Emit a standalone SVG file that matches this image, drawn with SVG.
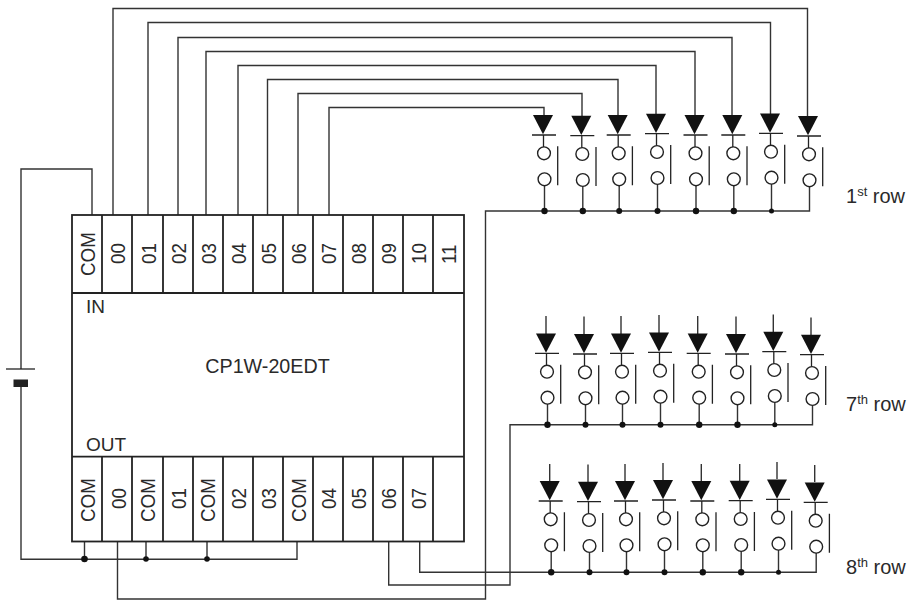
<svg xmlns="http://www.w3.org/2000/svg" width="912" height="606" viewBox="0 0 912 606">
<style>
text{font-family:"Liberation Sans",Arial,sans-serif;font-size:19px;fill:#2a2a2a}
.r{font-size:20px}
.w{fill:none;stroke:#333;stroke-width:1.4}
.b{fill:none;stroke:#222;stroke-width:1.8}
.s{fill:none;stroke:#222;stroke-width:1.3}
.d{fill:#111;stroke:none}
.c{fill:#fff;stroke:#222;stroke-width:1.4}
.sup{font-size:13px}
</style>
<defs>
<g id="sw">
<path class="d" d="M-11-38.3H9L-1-19Z"/>
<path class="s" d="M-12-18.3H12M-.5-19V-6M13.7-7V32"/>
<circle class="c" cx="0" cy="0" r="6.4"/>
<circle class="c" cx=".5" cy="26" r="6.4"/>
</g>
</defs>
<rect width="912" height="606" fill="#fff"/>
<g id="connectors">
<path class="w" d="M92 215V169H21V369M21 387V559.3H297V541"/>
<path class="w" d="M84.5 541V559M146 541V559M207 541V559"/>
<path class="w" d="M113 215V8.5H807.5V116M148 215V22.5H770.5V114M178 215V37.5H732V115M206 215V51.5H695V115M238 215V65.5H656V114M267.5 215V79.5H618V115M298 215V93.5H582V116M329 215V107.5H544V115"/>
<path class="w" d="M117.5 541V599H485.5V211H809.5V186.3"/>
<path class="w" d="M388.7 541V585H510V424.7H812.5V405"/>
<path class="w" d="M419.7 541V572.3H816.2V552.7"/>
<path class="w" d="M544.5 185V211M582.8 186V211M619.2 185V211M657.5 184V211M696 185V211M733.8 185V211M771.5 184V211"/>
<path class="w" d="M547.5 404V424.7M585.5 404V424.7M622.5 404V424.7M660.5 403V424.7M699.2 404V424.7M737.5 404V424.7M774.8 402V424.7"/>
<path class="w" d="M551.2 551V572.3M589.5 552V572.3M626.5 551V572.3M664.5 550V572.3M702.8 551V572.3M741.2 551V572.3M778.5 550V572.3"/>
<path class="w" d="M546 316V334M584 316.5V335M621 316V334M659 315V333M697.7 316V334M736 316.5V335M773.3 314.5V332M811 317.5V335M549.7 464V481M588 464.5V482M625 464V481M663 463V480M701.3 464V481M739.7 464V481M777 462V479M814.7 465V482"/>
<g fill="#111">
<circle cx="84.5" cy="559" r="3.3"/><circle cx="146" cy="559" r="2.8"/><circle cx="207" cy="559" r="2.8"/>
<circle cx="544.5" cy="211" r="3.2"/><circle cx="582.8" cy="211" r="3.2"/><circle cx="619.2" cy="211" r="3"/><circle cx="657.5" cy="211" r="3"/><circle cx="696" cy="211" r="3.2"/><circle cx="733.8" cy="211" r="3.2"/><circle cx="771.5" cy="211" r="2.5"/>
<circle cx="547.5" cy="424.7" r="3.2"/><circle cx="585.5" cy="424.7" r="3"/><circle cx="622.5" cy="424.7" r="3"/><circle cx="660.5" cy="424.7" r="3"/><circle cx="699.2" cy="424.7" r="3.2"/><circle cx="737.5" cy="424.7" r="3.2"/><circle cx="774.8" cy="424.7" r="2.5"/>
<circle cx="551.2" cy="572.3" r="3.2"/><circle cx="589.5" cy="572.3" r="3"/><circle cx="626.5" cy="572.3" r="3"/><circle cx="664.5" cy="572.3" r="3"/><circle cx="702.8" cy="572.3" r="3.2"/><circle cx="741.2" cy="572.3" r="3.2"/><circle cx="778.5" cy="572.3" r="2.5"/>
</g>
</g>
<g id="battery">
<path class="s" d="M6 369H35"/>
<rect x="13.5" y="379.5" width="14.5" height="7.5" fill="#222"/>
</g>
<g id="module">
<rect class="b" x="72" y="215" width="392" height="326.5"/>
<path class="b" d="M72 293H464M72 456.7H464"/>
<path class="b" d="M102 215V293M132 215V293M163 215V293M193 215V293M223 215V293M253 215V293M283 215V293M313 215V293M343 215V293M373 215V293M403 215V293M433 215V293"/>
<path class="b" d="M102 456.7V541.5M132 456.7V541.5M163 456.7V541.5M193 456.7V541.5M223 456.7V541.5M253 456.7V541.5M283 456.7V541.5M313 456.7V541.5M343 456.7V541.5M373 456.7V541.5M403 456.7V541.5M433 456.7V541.5"/>
<text x="86" y="313">IN</text>
<text x="86" y="451">OUT</text>
<text x="267.5" y="373" text-anchor="middle" style="font-size:19.7px">CP1W-20EDT</text>
<text class="r" transform="translate(95 276) rotate(-90) scale(.94 1)">COM</text>
<text class="r" transform="translate(125 264) rotate(-90) scale(.94 1)">00</text>
<text class="r" transform="translate(155.5 264) rotate(-90) scale(.94 1)">01</text>
<text class="r" transform="translate(185.5 264) rotate(-90) scale(.94 1)">02</text>
<text class="r" transform="translate(215.5 264) rotate(-90) scale(.94 1)">03</text>
<text class="r" transform="translate(245.5 264) rotate(-90) scale(.94 1)">04</text>
<text class="r" transform="translate(276 264) rotate(-90) scale(.94 1)">05</text>
<text class="r" transform="translate(306 264) rotate(-90) scale(.94 1)">06</text>
<text class="r" transform="translate(336 264) rotate(-90) scale(.94 1)">07</text>
<text class="r" transform="translate(366 264) rotate(-90) scale(.94 1)">08</text>
<text class="r" transform="translate(396 264) rotate(-90) scale(.94 1)">09</text>
<text class="r" transform="translate(426 264) rotate(-90) scale(.94 1)">10</text>
<text class="r" transform="translate(456 264) rotate(-90) scale(.94 1)">11</text>
<text class="r" transform="translate(95 522) rotate(-90) scale(.94 1)">COM</text>
<text class="r" transform="translate(125.5 509) rotate(-90) scale(.94 1)">00</text>
<text class="r" transform="translate(155 522) rotate(-90) scale(.94 1)">COM</text>
<text class="r" transform="translate(185.5 509) rotate(-90) scale(.94 1)">01</text>
<text class="r" transform="translate(215 522) rotate(-90) scale(.94 1)">COM</text>
<text class="r" transform="translate(246 509) rotate(-90) scale(.94 1)">02</text>
<text class="r" transform="translate(276 509) rotate(-90) scale(.94 1)">03</text>
<text class="r" transform="translate(306 522) rotate(-90) scale(.94 1)">COM</text>
<text class="r" transform="translate(335.5 509) rotate(-90) scale(.94 1)">04</text>
<text class="r" transform="translate(365.7 509) rotate(-90) scale(.94 1)">05</text>
<text class="r" transform="translate(395.7 509) rotate(-90) scale(.94 1)">06</text>
<text class="r" transform="translate(426 509) rotate(-90) scale(.94 1)">07</text>
</g>
<g id="row1">
<use href="#sw" x="544" y="153.3"/><use href="#sw" x="582.3" y="154"/><use href="#sw" x="618.7" y="153.3"/><use href="#sw" x="657" y="152"/><use href="#sw" x="695.5" y="153.3"/><use href="#sw" x="733.3" y="153.3"/><use href="#sw" x="771" y="151.7"/><use href="#sw" x="809" y="154.3"/>
<text class="r" x="846" y="203">1<tspan class="sup" dy="-7">st</tspan><tspan dy="7"> row</tspan></text>
</g>
<g id="row7">
<use href="#sw" x="547" y="371.7"/><use href="#sw" x="585" y="372.3"/><use href="#sw" x="622" y="371.7"/><use href="#sw" x="660" y="370.7"/><use href="#sw" x="698.7" y="371.7"/><use href="#sw" x="737" y="372.3"/><use href="#sw" x="774.3" y="370"/><use href="#sw" x="812" y="373"/>
<text class="r" x="846" y="411">7<tspan class="sup" dy="-7">th</tspan><tspan dy="7"> row</tspan></text>
</g>
<g id="row8">
<use href="#sw" x="550.7" y="519.3"/><use href="#sw" x="589" y="520"/><use href="#sw" x="626" y="519.3"/><use href="#sw" x="664" y="518.3"/><use href="#sw" x="702.3" y="519.3"/><use href="#sw" x="740.7" y="519"/><use href="#sw" x="778" y="517.7"/><use href="#sw" x="815.7" y="520.7"/>
<text class="r" x="846" y="574">8<tspan class="sup" dy="-7">th</tspan><tspan dy="7"> row</tspan></text>
</g>
</svg>
